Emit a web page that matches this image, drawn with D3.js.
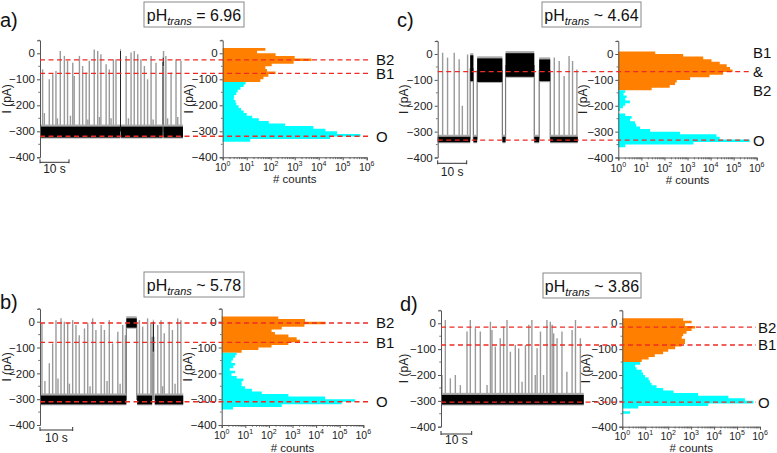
<!DOCTYPE html>
<html>
<head>
<meta charset="utf-8">
<script src="https://cdn.jsdelivr.net/npm/d3@7"></script>
<style>
  body { margin: 0; background: #fff; }
  svg { font-family: "Liberation Sans", Arial, sans-serif; }
</style>
</head>
<body>
<div id="chart"></div>
<script>
// ---------- data ----------

// histogram bins (centre of each 10 pA bin, pA)
const binCenters = [15, 5, -5, -15, -25, -35, -45, -55, -65, -75, -85, -95, -105, -115, -125, -135, -145, -155, -165,
                    -175, -185, -195, -205, -215, -225, -235, -245, -255, -265, -275, -285, -295, -305, -315, -325, -335, -345, -355];

// counts per bin, one array per panel (1 = empty bin)
const aCounts = [60, 27, 160, 1000, 5000, 900, 110, 60, 70, 160, 80, 50, 37, 9, 7.5, 5.5, 4.2, 3.7, 3,
                 2.9, 3.4, 3.7, 4.6, 5.8, 7.5, 10, 17, 32, 83, 400, 6000, 19000, 58000, 550000, 30000, 14, 1, 1];
const bCounts = [250, 3400, 25000, 3200, 350, 130, 180, 670, 1500, 2100, 670, 130, 36, 7, 4.3, 3.7, 3, 2.6, 3.7,
                 3.1, 2.2, 3.7, 2.6, 4.3, 8.3, 7, 7, 9.7, 19, 50, 670, 24000, 450000, 120000, 350, 3, 1, 1];
const cCounts = [1, 40, 650, 4800, 11000, 25000, 50000, 70000, 90000, 35000, 9000, 1300, 340, 290, 170, 28, 2, 1.7, 2.3,
                 2, 3.2, 2, 1.6, 1.2, 1, 2, 3.8, 3.2, 5.3, 6, 8.7, 24, 470, 18000, 25000, 500000, 1800, 2];
const dCounts = [450, 1050, 540, 1500, 1050, 630, 450, 390, 540, 540, 390, 200, 100, 60, 26, 14, 7, 6, 3.6,
                 4.2, 7, 8, 9.7, 14, 16, 19, 31, 60, 170, 2000, 42000, 220000, 520000, 5600, 5, 1, 2.2, 1];

// current below which the histogram is drawn cyan (open state)
const aSplit = -110, bSplit = -120, cSplit = -140, dSplit = -150;

// dense parts of the current traces: [t start (s), t end (s), low pA, high pA]
const aBand = [[0, 27.6, -324, -282], [27.62, 27.8, -300, 9], [27.8, 42.3, -324, -282],
               [42.35, 42.5, -49, -17], [42.55, 49.3, -324, -282]];
const bBand = [[0, 26.4, -320, -286], [26.4, 29.6, -23, 13], [29.7, 34.3, -320, -286],
               [34.5, 34.8, -116, 0], [35.1, 43.8, -320, -286]];
const cBand = [[0, 11.2, -341, -320], [11.2, 12.3, -105, -5], [12.3, 13.6, -341, -320],
               [13.6, 22.3, -108, -17], [22.3, 23.4, -341, -320], [23.4, 33.3, -88, 3],
               [33.3, 35.0, -341, -320], [35.0, 38.8, -105, -21], [38.8, 48.3, -341, -320]];
const dBand = [[0, 46.5, -314, -277]];

// brief events (time in s, peak current in pA)
const aSpikeT = [0.9, 1.5, 3.2, 4.4, 5.5, 6.0, 7.0, 8.4, 9.5, 10.5, 11.3, 11.8, 13.6, 14.7, 15.9, 16.5, 17.0, 18.7, 19.9, 20.5, 21.0,
                 22.8, 23.9, 24.5, 25.3, 26.2, 29.7, 30.5, 31.4, 32.5, 33.7, 34.8, 36.0, 37.1, 38.3, 39.0, 40.0, 42.6, 43.4, 44.0,
                 45.2, 46.9, 47.5, 48.6];
const aSpikePeak = [-62, -230, -100, -81, -68, -250, 9, -10, -29, -240, -36, -87, -10, -49, -74, -255, -29, 15, 9, -245, -4,
                    -42, -62, -250, -23, -23, -10, -250, 3, 9, -4, -23, -49, -100, -10, -255, -36, 9, -10, -250,
                    -74, -23, -245, -29];
const bSpikeT = [0.6, 1.5, 2.85, 3.87, 4.89, 5.5, 6.42, 7.44, 8.46, 9.0, 9.99, 11.0, 12.0, 13.6, 14.6, 15.3, 16.1, 17.1, 18.7,
                 19.7, 20.5, 21.2, 22.2, 23.8, 24.5, 25.3, 26.1, 30.4, 31.4, 32.9, 33.9, 36.0, 37.0, 37.5, 38.0, 39.5, 40.5,
                 41.3, 42.1, 43.1];
const bSpikePeak = [-6, -230, -161, -84, 6, -220, 13, 0, -6, -240, 6, -13, -52, -26, -6, -250, 13, -32, -13,
                    -32, -230, 6, -84, -39, -240, -13, -52, 6, -19, 13, -6, -13, 6, -250, -45, 0, -32,
                    -240, 13, 6];
const cSpikeT = [1.7, 3.4, 5.7, 7.4, 8.5, 10.3, 40.2, 41.9, 43.6, 45.3, 46.5, 48.0];
const cSpikePeak = [5, -14, 5, -20, -200, -2, -14, -27, -85, -8, -27, -60];
const dSpikeT = [0.33, 1.41, 3.04, 4.67, 6.3, 8.47, 9.55, 11.2, 12.8, 15.0, 16.1, 16.6, 17.7, 19.3, 20.4, 21.5, 22.6, 24.2,
                 25.3, 26.4, 27.5, 28.6, 29.6, 30.7, 31.3, 32.4, 33.4, 34.5, 35.6, 36.2, 36.7, 37.8, 39.4, 41.0, 42.7,
                 43.8, 45.4];
const dSpikePeak = [-200, 13, -213, -200, -239, -32, 13, -19, -32, -239, 6, -26, -90, -58, -13, 13, -110, -84,
                    -97, -226, -84, -6, 13, -200, -97, -32, -200, 13, 6, -6, -39, -58, -32, -187, -26,
                    13, -58];

// conductance levels marked by dashed lines
const aLevelNames = ["B2", "B1", "O"], aLevelValues = [-25, -77, -319];
const bLevelNames = ["B2", "B1", "O"], bLevelValues = [-5, -80, -310];
const cLevelNames = ["B1 & B2", "O"],  cLevelValues = [-68, -333];
const dLevelNames = ["B2", "B1", "O"], dLevelValues = [-15, -84, -305];

const phText = [" = 6.96", " ~ 5.78", " ~ 4.64", " ~ 3.86"];
const yTicks = [0, -100, -200, -300, -400];
const countTicks = [1, 10, 100, 1000, 10000, 100000, 1000000];

// ---------- layout ----------
const width = 777, height = 453;
const orange = "#ff8000", cyan = "#00ffff", red = "#ee2b24", axisCol = "#555";

const svg = d3.select("#chart").append("svg")
    .attr("width", width)
    .attr("height", height);

const panels = [
  {letter: "a)", lx: 0, ly: 27, ph: phText[0], box: [144, 2, 100, 25],
   tx: 40, px10: 29, zeroY: 53.3, minY: 157.3, hx0: 222.7, hx1: 366.7, lineEnd: 370, labelX: 376,
   barY: 162.3, barTextY: 172.5, tickTextY: 171, countsY: 183, tLabelX: 11, hLabelX: 193,
   band: aBand, spikeT: aSpikeT, spikePeak: aSpikePeak, counts: aCounts, split: aSplit,
   levelNames: aLevelNames, levelValues: aLevelValues},
  {letter: "b)", lx: 0, ly: 309, ph: phText[1], box: [144, 272, 100, 25],
   tx: 40, px10: 32.7, zeroY: 321.7, minY: 425, hx0: 221.7, hx1: 363.3, lineEnd: 371, labelX: 376,
   barY: 430, barTextY: 441.7, tickTextY: 438.5, countsY: 451.5, tLabelX: 11, hLabelX: 192,
   band: bBand, spikeT: bSpikeT, spikePeak: bSpikePeak, counts: bCounts, split: bSplit,
   levelNames: bLevelNames, levelValues: bLevelValues},
  {letter: "c)", lx: 397, ly: 27, ph: phText[2], box: [542, 2, 99, 25],
   tx: 437.7, px10: 29, zeroY: 54, minY: 157.5, hx0: 618.3, hx1: 756.7, lineEnd: 752, labelX: 753,
   barY: 163.3, barTextY: 175.7, tickTextY: 171.5, countsY: 184, tLabelX: 408, hLabelX: 587,
   band: cBand, spikeT: cSpikeT, spikePeak: cSpikePeak, counts: cCounts, split: cSplit,
   levelNames: cLevelNames, levelValues: cLevelValues},
  {letter: "d)", lx: 400, ly: 311, ph: phText[3], box: [543, 273, 98, 25],
   tx: 441, px10: 30.7, zeroY: 323.3, minY: 426.7, hx0: 622.3, hx1: 760, lineEnd: 756, labelX: 758,
   barY: 434, barTextY: 444, tickTextY: 439.5, countsY: 452, tLabelX: 408, hLabelX: 590,
   band: dBand, spikeT: dSpikeT, spikePeak: dSpikePeak, counts: dCounts, split: dSplit,
   levelNames: dLevelNames, levelValues: dLevelValues}
];

function drawPanel(p) {
  const g = svg.append("g");

  // shared current scale for trace and histogram
  const y = d3.scaleLinear()
      .domain([-400, 0])
      .range([p.minY, p.zeroY]);
  const x = d3.scaleLinear()
      .domain([0, 10])
      .range([p.tx, p.tx + p.px10]);
  const hx = d3.scaleLog()
      .domain([1, 1e6])
      .range([p.hx0, p.hx1]);

  // panel letter
  g.append("text")
      .attr("x", p.lx).attr("y", p.ly)
      .attr("font-size", 20).attr("fill", "#111")
      .text(p.letter);

  // title box
  g.append("rect")
      .attr("x", p.box[0]).attr("y", p.box[1])
      .attr("width", p.box[2]).attr("height", p.box[3])
      .attr("fill", "#fff").attr("stroke", "#888").attr("stroke-width", 1);
  const t = g.append("text")
      .attr("x", p.box[0] + p.box[2] / 2).attr("y", p.box[1] + 18.5)
      .attr("text-anchor", "middle").attr("font-size", 16).attr("fill", "#111");
  t.append("tspan").text("pH");
  t.append("tspan").attr("font-style", "italic").attr("font-size", 11).attr("dy", 4).text("trans");
  t.append("tspan").attr("dy", -4).text(p.ph);

  // ---- trace ----
  const bandAt = tt => p.band.find(b => tt >= b[0] && tt <= b[1]);

  // short events
  g.append("g").selectAll("line")
      .data(p.spikeT.map((tt, i) => [tt, p.spikePeak[i]]))
      .enter().append("line")
        .attr("x1", d => x(d[0])).attr("x2", d => x(d[0]))
        .attr("y1", d => { const b = bandAt(d[0]); return y(b ? (b[2] + b[3]) / 2 : -300); })
        .attr("y2", d => y(d[1]))
        .attr("stroke", "#9a9a9a").attr("stroke-width", 1.4);

  // transitions between consecutive levels
  const trans = [];
  for (let i = 1; i < p.band.length; i++) {
    const a = p.band[i - 1], b = p.band[i];
    if (a[3] < b[2] || b[3] < a[2]) trans.push([a[1], (a[2] + a[3]) / 2, (b[2] + b[3]) / 2]);
  }
  g.append("g").selectAll("line")
      .data(trans)
      .enter().append("line")
        .attr("x1", d => x(d[0])).attr("x2", d => x(d[0]))
        .attr("y1", d => y(d[1])).attr("y2", d => y(d[2]))
        .attr("stroke", "#777").attr("stroke-width", 1.2);

  // dense noisy current (grey fringe + black core)
  g.append("g").selectAll("rect")
      .data(p.band)
      .enter().append("rect")
        .attr("x", d => x(d[0]))
        .attr("width", d => Math.max(0.8, x(d[1]) - x(d[0])))
        .attr("y", d => y(d[3] + 8))
        .attr("height", d => y(d[2] - 4) - y(d[3] + 8))
        .attr("fill", "#aaa");
  g.append("g").selectAll("rect")
      .data(p.band)
      .enter().append("rect")
        .attr("x", d => x(d[0]))
        .attr("width", d => Math.max(0.8, x(d[1]) - x(d[0])))
        .attr("y", d => y(d[3]))
        .attr("height", d => y(d[2]) - y(d[3]))
        .attr("fill", "#000");

  // trace y axis
  const ax1 = g.append("g")
      .attr("transform", "translate(" + p.tx + ",0)")
      .call(d3.axisLeft(y.copy().domain([-400, 50]).range([p.minY, y(50)]))
        .tickValues(yTicks).tickSize(3).tickPadding(2));
  styleAxis(ax1);
  minorY(g, p.tx, y);

  // scale bar
  g.append("path")
      .attr("d", "M" + x(0) + "," + (p.barY - 3) + "V" + (p.barY + 1) + "M" + x(0) + "," + p.barY +
                 "H" + x(10) + "M" + x(10) + "," + (p.barY - 3) + "V" + (p.barY + 1))
      .attr("fill", "none").attr("stroke", "#333").attr("stroke-width", 1);
  g.append("text")
      .attr("x", (x(0) + x(10)) / 2).attr("y", p.barTextY)
      .attr("text-anchor", "middle").attr("font-size", 12).attr("fill", "#222")
      .text("10 s");

  // ---- histogram (horizontal step areas) ----
  const bins = binCenters.map((c, i) => ({c: c, n: Math.max(1, p.counts[i])}));
  const stepArea = d3.area()
      .y(d => y(d[0]))
      .x0(hx(1))
      .x1(d => hx(d[1]));
  [[orange, bins.filter(b => b.c > p.split)], [cyan, bins.filter(b => b.c <= p.split)]].forEach(([col, part]) => {
    const pts = [];
    part.forEach(b => { pts.push([b.c + 5, b.n]); pts.push([b.c - 5, b.n]); });
    g.append("path")
        .attr("d", stepArea(pts))
        .attr("fill", col);
  });

  const ax2 = g.append("g")
      .attr("transform", "translate(" + p.hx0 + ",0)")
      .call(d3.axisLeft(y.copy().domain([-400, 50]).range([p.minY, y(50)]))
        .tickValues(yTicks).tickSize(3).tickPadding(2));
  styleAxis(ax2);
  minorY(g, p.hx0, y);

  const ax3 = g.append("g")
      .attr("transform", "translate(0," + p.minY + ")")
      .call(d3.axisBottom(hx).tickValues(countTicks).tickSize(3).tickFormat(""));
  styleAxis(ax3);
  // minor log ticks
  const minors = hx.ticks().filter(v => countTicks.indexOf(v) < 0);
  g.append("g").selectAll("line")
      .data(minors)
      .enter().append("line")
        .attr("x1", d => hx(d)).attr("x2", d => hx(d))
        .attr("y1", p.minY).attr("y2", p.minY + 1.8)
        .attr("stroke", axisCol).attr("stroke-width", 0.8);
  // 10^n labels
  countTicks.forEach((v, i) => {
    const lt = g.append("text")
        .attr("x", hx(v)).attr("y", p.tickTextY)
        .attr("text-anchor", "middle").attr("font-size", 10.5).attr("fill", "#222");
    lt.append("tspan").text("10");
    lt.append("tspan").attr("dy", -5).attr("font-size", 7).text(i);
  });
  g.append("text")
      .attr("x", (p.hx0 + p.hx1) / 2).attr("y", p.countsY)
      .attr("text-anchor", "middle").attr("font-size", 11.5).attr("fill", "#222")
      .text("# counts");

  // rotated axis titles
  [p.tLabelX, p.hLabelX].forEach(lxx => {
    g.append("text")
        .attr("transform", "translate(" + lxx + "," + ((y(50) + p.minY) / 2) + ") rotate(-90)")
        .attr("text-anchor", "middle").attr("font-size", 12).attr("fill", "#222")
        .text("I (pA)");
  });

  // ---- dashed level lines and their names ----
  p.levelValues.forEach((v, i) => {
    g.append("line")
        .attr("x1", p.tx).attr("x2", p.lineEnd)
        .attr("y1", y(v)).attr("y2", y(v))
        .attr("stroke", red).attr("stroke-width", 1.3)
        .attr("stroke-dasharray", "5,3.5");
    const parts = p.levelNames[i].split(" ");
    parts.forEach((s, k) => {
      g.append("text")
          .attr("x", p.labelX)
          .attr("y", y(v) + (k - (parts.length - 1) / 2) * 19)
          .attr("dy", "0.36em")
          .attr("font-size", 15).attr("fill", "#111")
          .text(s);
    });
  });
}

function styleAxis(ax) {
  ax.select(".domain").attr("stroke", axisCol);
  ax.selectAll(".tick line").attr("stroke", axisCol);
  ax.selectAll(".tick text").attr("font-size", 11.5).attr("fill", "#222")
      .attr("font-family", "'Liberation Sans', Arial, sans-serif");
}

function minorY(g, xPos, y) {
  g.append("g").selectAll("line")
      .data([50, -50, -150, -250, -350])
      .enter().append("line")
        .attr("x1", xPos - 1.8).attr("x2", xPos)
        .attr("y1", d => y(d)).attr("y2", d => y(d))
        .attr("stroke", axisCol).attr("stroke-width", 0.8);
}

panels.forEach(drawPanel);
</script>
</body>
</html>
